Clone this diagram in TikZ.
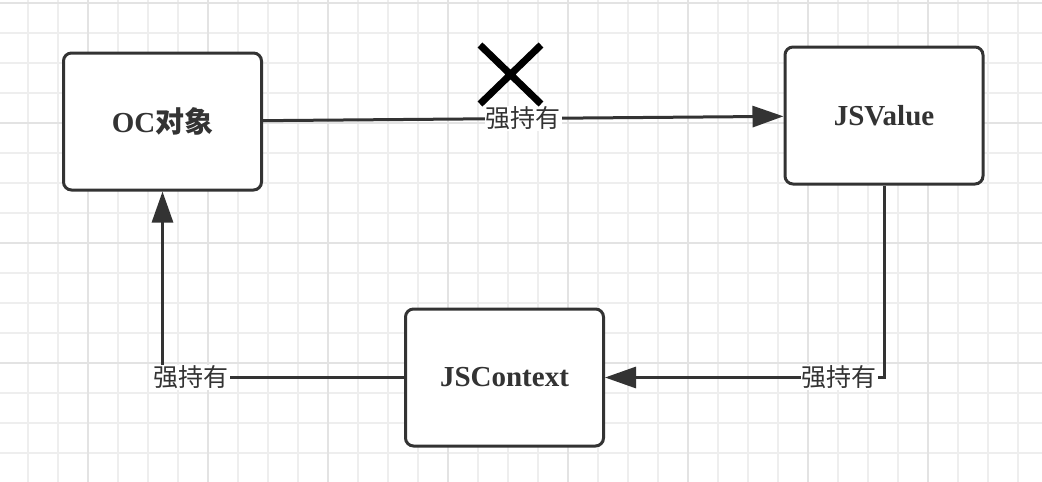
\documentclass[tikz,border=0pt]{standalone}
\usepackage{fontspec}
\setmainfont{Liberation Serif}
\newfontfamily\cjk{Noto Sans CJK SC}
\usetikzlibrary{arrows.meta}
\definecolor{linegray}{HTML}{333333}
\definecolor{gridgray}{HTML}{EEEEEE}
\definecolor{gridmajor}{HTML}{E3E3E3}

\begin{document}
\begin{tikzpicture}[x=1pt,y=-1pt,
    objbox/.style={draw=linegray,line width=3pt,rounded corners=8pt,fill=white,
      minimum width=198pt,minimum height=137pt,text=linegray,
      font=\fontsize{29}{29}\selectfont\bfseries},
    hold/.style={draw=linegray,line width=3pt,-{Triangle[length=31pt,width=21pt]}},
    holdlabel/.style={fill=white,inner sep=1pt,text=linegray,
      font=\cjk\fontsize{25}{25}\selectfont}]
    \useasboundingbox (0,0) rectangle (1042,482);
    \fill[white] (0,0) rectangle (1042,482);
    \foreach \gx in {28,58,...,1018}
        \draw[gridgray,line width=1.5pt] (\gx,0) -- (\gx,482);
    \foreach \gy in {3,33,...,453}
        \draw[gridgray,line width=1.5pt] (0,\gy) -- (1042,\gy);
    \foreach \gx in {88,208,...,928}
        \draw[gridmajor,line width=1.5pt] (\gx,0) -- (\gx,482);
    \foreach \gy in {3,123,...,363}
        \draw[gridmajor,line width=1.5pt] (0,\gy) -- (1042,\gy);
    \node[objbox] (oc) at (162.5,121.5) {OC{\cjk 对象}};
    \node[objbox] (jsv) at (884,115.5) {JSValue};
    \node[objbox] (ctx) at (504.5,377.5) {JSContext};
    \draw[hold] (oc) -- (jsv) node[holdlabel,midway] (hold1) {强持有};
    \draw[hold] (jsv.south) |- (ctx.east) node[holdlabel,pos=0.58] (hold2) {强持有};
    \draw[hold] (ctx.west) -| (oc.south) node[holdlabel,pos=0.44] (hold3) {强持有};
    \draw[black,line width=7pt] (480,45) -- (541,104) (541,45) -- (480,104);
\end{tikzpicture}
\end{document}
